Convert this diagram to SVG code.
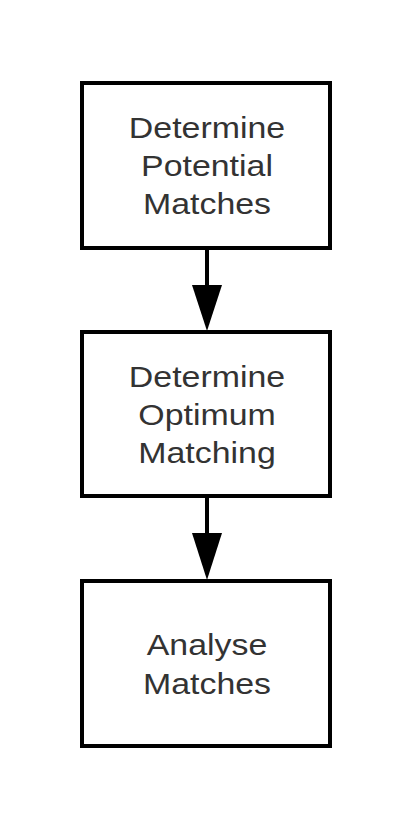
<svg xmlns="http://www.w3.org/2000/svg" width="415" height="828" viewBox="0 0 415 828">
<style>
.box{fill:#fff;stroke:#000;stroke-width:4}
.lbl{font-family:"Liberation Sans",Arial,sans-serif;font-size:30px;fill:#333;text-anchor:middle}
.conn{stroke:#000;stroke-width:4;fill:none}
.head{fill:#000}
</style>
<rect width="415" height="828" fill="#fff"/>
<g id="n1">
<rect class="box" x="82" y="83" width="248" height="165"/>
<g transform="translate(207,0) scale(1.13,1)">
<text class="lbl" x="0" y="138">Determine</text>
<text class="lbl" x="0" y="176">Potential</text>
<text class="lbl" x="0" y="214">Matches</text>
</g>
</g>
<g id="n2">
<rect class="box" x="82" y="332" width="248" height="164"/>
<g transform="translate(207,0) scale(1.13,1)">
<text class="lbl" x="0" y="387">Determine</text>
<text class="lbl" x="0" y="425">Optimum</text>
<text class="lbl" x="0" y="463">Matching</text>
</g>
</g>
<g id="n3">
<rect class="box" x="82" y="581" width="248" height="165"/>
<g transform="translate(207,0) scale(1.13,1)">
<text class="lbl" x="0" y="655">Analyse</text>
<text class="lbl" x="0" y="694">Matches</text>
</g>
</g>
<g id="connectors">
<line class="conn" x1="207" y1="248" x2="207" y2="286"/>
<path class="head" d="M192,285 L222,285 L207,331 Z"/>
<line class="conn" x1="207" y1="496" x2="207" y2="534"/>
<path class="head" d="M192,533 L222,533 L207,580 Z"/>
</g>
</svg>
